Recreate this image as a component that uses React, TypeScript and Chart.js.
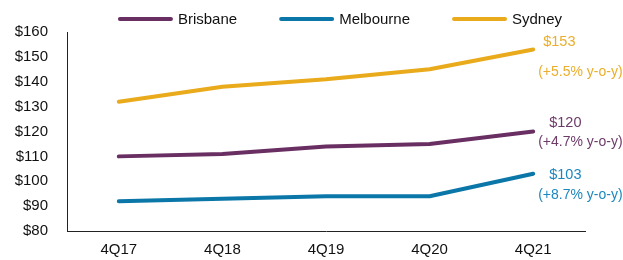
import React, { useEffect, useRef } from "react";
import { Chart, registerables } from "chart.js";

Chart.register(...registerables);

const categories = ["4Q17", "4Q18", "4Q19", "4Q20", "4Q21"];
const seriesNames = ["Brisbane", "Melbourne", "Sydney"];
const brisbane = [110, 111, 114, 115, 120];
const melbourne = [92, 93, 94, 94, 103];
const sydney = [132, 138, 141, 145, 153];
const endValueLabels = ["$120", "$103", "$153"];
const endChangeLabels = ["(+4.7% y-o-y)", "(+8.7% y-o-y)", "(+5.5% y-o-y)"];
const yTickPrefix = "$";

const lineColors = ["#6A2F62", "#0B77A9", "#E9AA1C"];
const textColors = ["#6E3A68", "#1C87BF", "#EBAE2A"];
const FONT = "Arial, 'Liberation Sans', sans-serif";

// offsets of end labels relative to the last point [valueDx, valueDy, changeDx, changeDy]
const labelOffsets = [
  [16, -9, 5, 11],
  [16, 1, 5, 21],
  [10, -7, 5, 23],
];

const legendPlugin = {
  id: "customLegend",
  afterDraw(chart: any) {
    const ctx = chart.ctx;
    ctx.save();
    ctx.font = `15px ${FONT}`;
    const lineLen = 55;
    const textGap = 5;
    const itemGap = 42;
    const widths = seriesNames.map((n) => ctx.measureText(n).width);
    const total =
      widths.reduce((a, b) => a + b, 0) + seriesNames.length * (lineLen + textGap) + itemGap * (seriesNames.length - 1);
    let x = 340 - total / 2;
    const y = 19;
    seriesNames.forEach((name, i) => {
      ctx.strokeStyle = lineColors[i];
      ctx.lineWidth = 4;
      ctx.lineCap = "round";
      ctx.beginPath();
      ctx.moveTo(x + 2, y);
      ctx.lineTo(x + lineLen - 2, y);
      ctx.stroke();
      ctx.fillStyle = "#111";
      ctx.textAlign = "left";
      ctx.textBaseline = "middle";
      ctx.fillText(name, x + lineLen + textGap, y + 1);
      x += lineLen + textGap + widths[i] + itemGap;
    });
    ctx.restore();
  },
};

const endLabelPlugin = {
  id: "endLabels",
  afterDatasetsDraw(chart: any) {
    const ctx = chart.ctx;
    ctx.save();
    ctx.textAlign = "left";
    ctx.textBaseline = "middle";
    chart.data.datasets.forEach((ds: any, i: number) => {
      const meta = chart.getDatasetMeta(i);
      const pt = meta.data[meta.data.length - 1];
      const [vdx, vdy, cdx, cdy] = labelOffsets[i];
      ctx.fillStyle = textColors[i];
      ctx.font = `14.5px ${FONT}`;
      ctx.fillText(endValueLabels[i], pt.x + vdx, pt.y + vdy);
      ctx.font = `14px ${FONT}`;
      ctx.fillText(endChangeLabels[i], pt.x + cdx, pt.y + cdy);
    });
    ctx.restore();
  },
};

export default function App() {
  const ref = useRef<HTMLCanvasElement>(null);
  useEffect(() => {
    document.body.style.margin = "0";
    const chart = new Chart(ref.current!, {
      type: "line",
      data: {
        labels: categories,
        datasets: [brisbane, melbourne, sydney].map((d, i) => ({
          label: seriesNames[i],
          data: d,
          borderColor: lineColors[i],
          backgroundColor: lineColors[i],
          borderWidth: 4,
          borderCapStyle: "round" as const,
          borderJoinStyle: "round" as const,
          pointRadius: 0,
          tension: 0,
        })),
      },
      options: {
        responsive: false,
        animation: false,
        layout: { padding: { top: 32, right: 38, left: 14, bottom: 0 } },
        plugins: {
          legend: { display: false },
          tooltip: { enabled: false },
        },
        scales: {
          x: {
            offset: true,
            grid: { display: false, drawTicks: false },
            border: { display: true, color: "#222", width: 1 },
            ticks: { color: "#111", padding: 10, font: { size: 15, family: FONT } },
            afterFit: (s: any) => {
              s.height = 29;
            },
          },
          y: {
            min: 80,
            max: 160,
            grid: { display: false, drawTicks: false },
            border: { display: true, color: "#222", width: 1 },
            ticks: {
              stepSize: 10,
              color: "#111",
              padding: 19,
              font: { size: 15, family: FONT },
              callback: (v: any) => yTickPrefix + v,
            },
            afterFit: (s: any) => {
              s.width = 53;
            },
          },
        },
      },
      plugins: [legendPlugin, endLabelPlugin],
    });
    return () => chart.destroy();
  }, []);
  return (
    <div style={{ position: "absolute", left: 0, top: 0, width: 623, height: 260 }}>
      <canvas ref={ref} width={623} height={260} />
    </div>
  );
}
